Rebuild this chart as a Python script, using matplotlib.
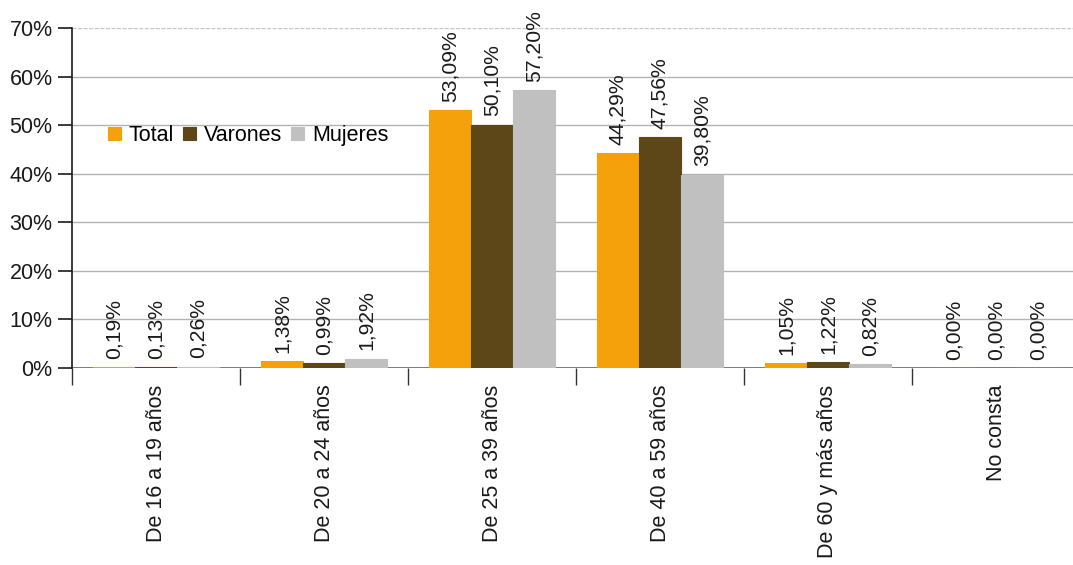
import numpy as np
import matplotlib
matplotlib.use('Agg')
import matplotlib.pyplot as plt

plt.rcParams['font.family'] = ['Liberation Sans', 'DejaVu Sans']

categories = ['De 16 a 19 años', 'De 20 a 24 años', 'De 25 a 39 años',
              'De 40 a 59 años', 'De 60 y más años', 'No consta']
total = [0.19, 1.38, 53.09, 44.29, 1.05, 0.00]
varones = [0.13, 0.99, 50.10, 47.56, 1.22, 0.00]
mujeres = [0.26, 1.92, 57.20, 39.80, 0.82, 0.00]
series = [('Total', total, '#F5A10B'),
          ('Varones', varones, '#5D4617'),
          ('Mujeres', mujeres, '#C0C0C0')]

fig = plt.figure(figsize=(10.73, 5.65), dpi=100)
ax = fig.add_axes([72 / 1073, 1 - 368 / 565, 1008 / 1073, 340 / 565])

x = np.arange(len(categories))
w = 0.25
for i, (name, vals, col) in enumerate(series):
    pos = x + (i - 1) * w
    ax.bar(pos, vals, width=w, color=col, edgecolor=col, linewidth=0.8,
           label=name, zorder=3)
    for p, v in zip(pos, vals):
        ax.annotate(f'{v:.2f}%'.replace('.', ','), (p, v), xytext=(0, 6),
                    textcoords='offset points', rotation=90, ha='center',
                    va='bottom', fontsize=15.2, color='#1a1a1a')

ax.set_xlim(-0.5, len(categories) - 0.5)
ax.set_ylim(0, 70)
ax.set_yticks(range(0, 71, 10))
ax.set_yticklabels([f'{t}%' for t in range(0, 71, 10)], fontsize=15.5, color='#1a1a1a')
for t in range(10, 61, 10):
    ax.axhline(t, color='#b3b3b3', lw=1, zorder=1)
ax.axhline(70, color='#c8c8c8', lw=1, ls=(0, (3, 1)), zorder=1)
ax.axhline(0, color='#666666', lw=1.2, zorder=2)

ax.set_xticks(x)
ax.set_xticklabels(categories, rotation=90, fontsize=15.5, color='#1a1a1a')
ax.set_xticks(np.arange(-0.5, len(categories), 1), minor=True)
ax.tick_params(axis='x', which='major', length=0, pad=12)
ax.tick_params(axis='x', which='minor', length=12, width=1, color='#333333', direction='out')
ax.tick_params(axis='y', length=10, width=1.2, direction='out', pad=4, color='#1a1a1a')

for s in ['top', 'right', 'bottom']:
    ax.spines[s].set_visible(False)
ax.spines['left'].set_color('#1a1a1a')
ax.spines['left'].set_linewidth(1.2)

ax.legend(loc='center left', bbox_to_anchor=(0.027, 0.684), ncol=3, frameon=False,
          fontsize=15.5, handlelength=0.6, handleheight=0.6, handletextpad=0.37,
          columnspacing=0.42, borderaxespad=0)

fig.savefig('out.png', dpi=100)
